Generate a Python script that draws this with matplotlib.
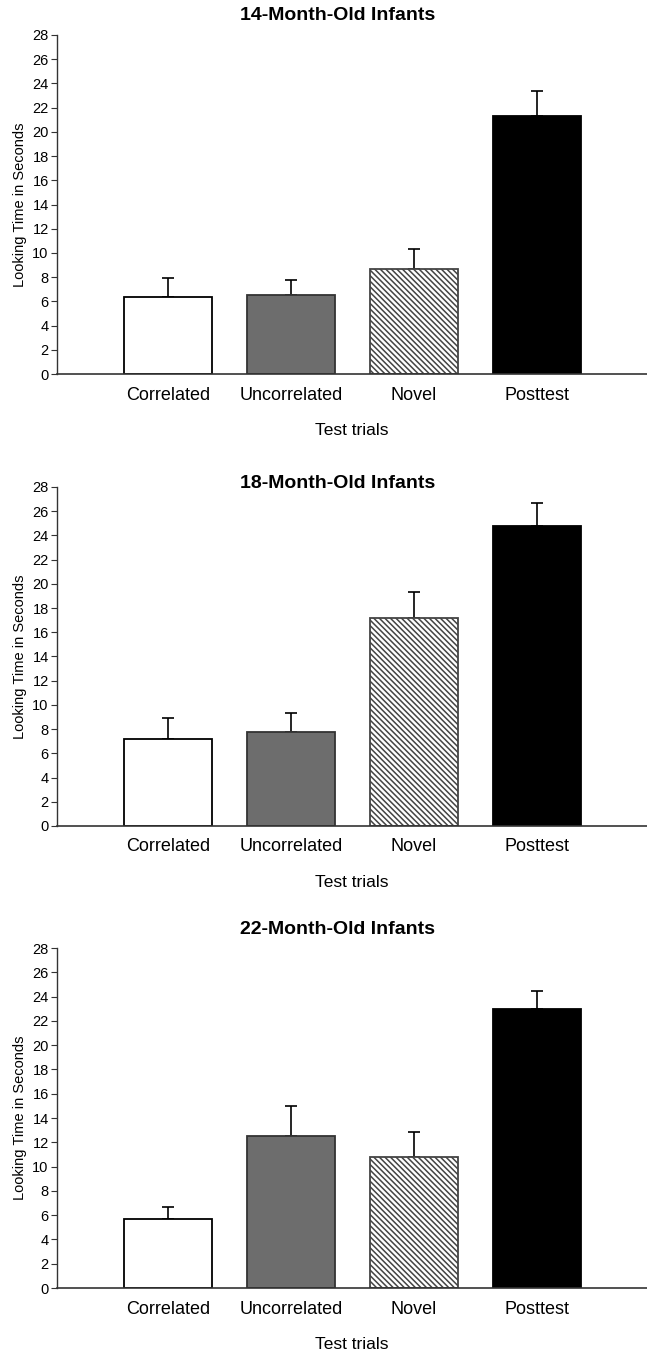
import matplotlib
matplotlib.use('Agg')
import matplotlib.pyplot as plt
import numpy as np

plt.rcParams['font.family'] = ['Liberation Sans', 'DejaVu Sans']
plt.rcParams['hatch.linewidth'] = 1.1

categories = ['Correlated', 'Uncorrelated', 'Novel', 'Posttest']
titles = ['14-Month-Old Infants', '18-Month-Old Infants', '22-Month-Old Infants']

means_14 = [6.4, 6.5, 8.65, 21.3]
errs_14 = [1.55, 1.3, 1.65, 2.05]
means_18 = [7.2, 7.8, 17.15, 24.8]
errs_18 = [1.75, 1.55, 2.15, 1.85]
means_22 = [5.65, 12.5, 10.8, 22.95]
errs_22 = [1.05, 2.5, 2.05, 1.55]

yticks = list(range(0, 29, 2))

W, H = 647, 1358
fig = plt.figure(figsize=(W / 100, H / 100), dpi=100)

# (axis top px, axis bottom px, title centre px)
panels = [(35, 374, 15), (487, 826, 483), (948, 1288, 929)]
left_px = 57

styles = [
    dict(color='white', edgecolor='black', hatch=None),
    dict(color='#6d6d6d', edgecolor='#333333', hatch=None),
    dict(color='white', edgecolor='#444444', hatch='\\' * 6),
    dict(color='black', edgecolor='black', hatch=None),
]

data = [(means_14, errs_14), (means_18, errs_18), (means_22, errs_22)]

for (top, bot, ty), title, (means, errs) in zip(panels, titles, data):
    ax = fig.add_axes([left_px / W, 1 - bot / H, 1 - left_px / W, (bot - top) / H])
    x = np.arange(len(categories))
    for xi, m, st in zip(x, means, styles):
        ax.bar(xi, m, width=0.715, color=st['color'], edgecolor=st['edgecolor'],
               hatch=st['hatch'], linewidth=1.3, zorder=2)
    ax.errorbar(x, means, yerr=[np.zeros(len(errs)), errs], fmt='none',
                ecolor='black', elinewidth=1.2, capsize=4, capthick=1.2, zorder=1)
    ax.set_xlim(-0.902, 3.894)
    ax.set_ylim(0, 28)
    ax.set_yticks(yticks)
    ax.set_xticks(x)
    ax.set_xticklabels(categories, fontsize=13)
    ax.tick_params(axis='x', length=0, pad=9)
    ax.tick_params(axis='y', length=4, pad=2, labelsize=10.5, direction='out',
                   color='#333333')
    for s in ['top', 'right']:
        ax.spines[s].set_visible(False)
    ax.spines['left'].set_linewidth(1.0)
    ax.spines['left'].set_color('#333333')
    ax.spines['bottom'].set_linewidth(1.2)
    ax.spines['bottom'].set_color('#333333')
    ax.set_ylabel('Looking Time in Seconds', fontsize=10.5, labelpad=4)
    ax.set_xlabel('Test trials', fontsize=12.5, labelpad=14)
    fig.text(338 / W, 1 - ty / H, title, ha='center', va='center',
             fontsize=14, fontweight='bold')

fig.savefig('out.png', dpi=100)
